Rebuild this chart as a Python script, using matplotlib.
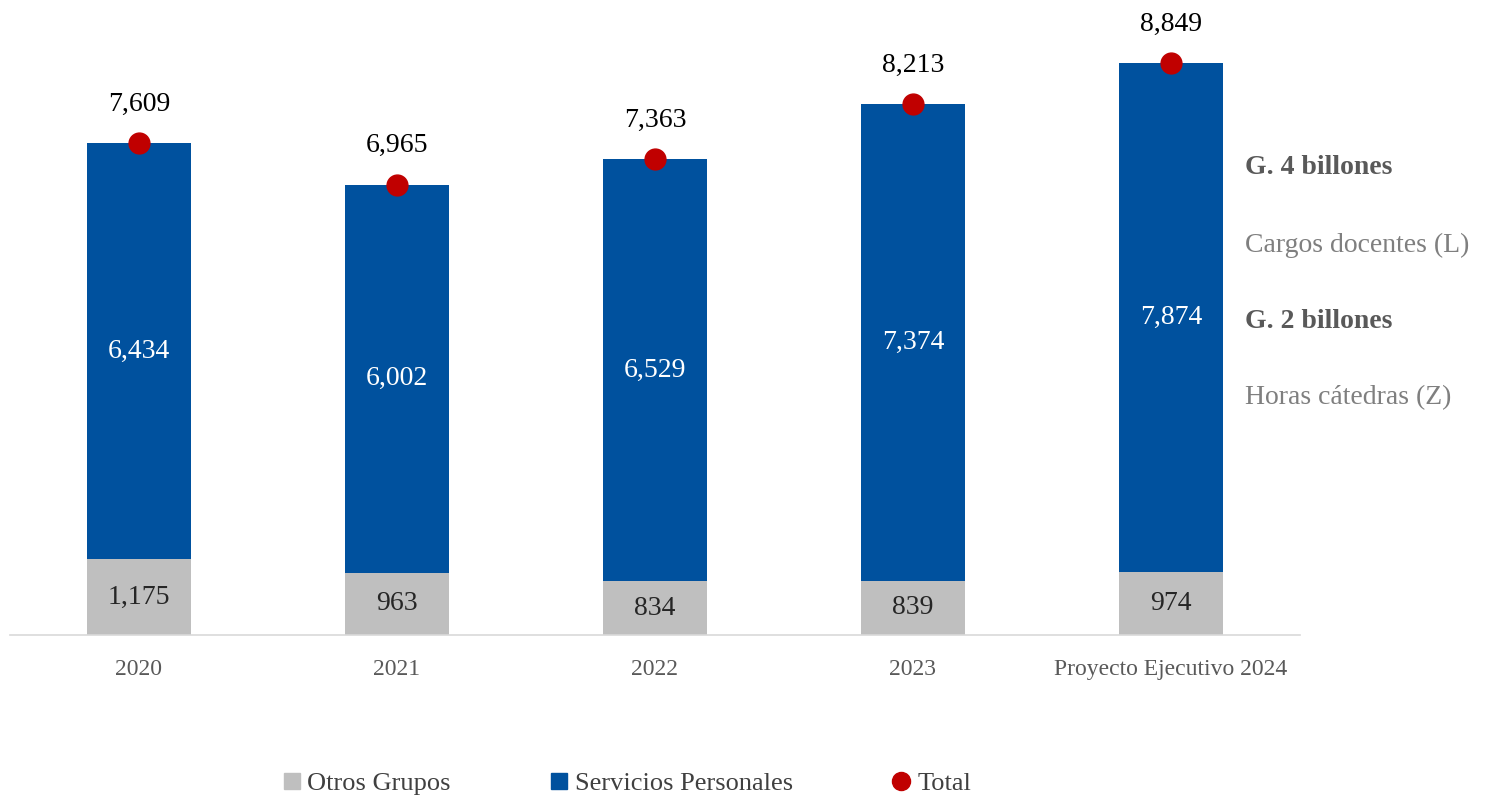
import matplotlib
matplotlib.use("Agg")
import matplotlib.pyplot as plt
from matplotlib.lines import Line2D

categories = ["2020", "2021", "2022", "2023", "Proyecto Ejecutivo 2024"]
otros_grupos = [1175, 963, 834, 839, 974]
servicios_personales = [6434, 6002, 6529, 7374, 7874]
total = [7609, 6965, 7363, 8213, 8849]
side_notes = ["G. 4 billones", "Cargos docentes (L)", "G. 2 billones", "Horas cátedras (Z)"]

BLUE = "#00519E"
GRAY = "#BFBFBF"
RED = "#C00000"
FONT = ["Liberation Serif", "DejaVu Serif"]
plt.rcParams['font.family'] = FONT

W, H = 1486, 799
fig = plt.figure(figsize=(W / 100, H / 100), dpi=100)
ax = fig.add_axes([10 / W, 164 / H, 1290 / W, 615 / H])

x = list(range(len(categories)))
ax.bar(x, otros_grupos, width=0.40, color=GRAY, zorder=2)
ax.bar(x, servicios_personales, width=0.40, bottom=otros_grupos, color=BLUE, zorder=2)
ax.plot(x, total, linestyle="none", marker="o", ms=15, color=RED, zorder=4)

for i in x:
    ax.text(i, otros_grupos[i] / 2, f"{otros_grupos[i]:,}", ha="center", va="center",
            fontsize=20, color="#262626", zorder=5)
    ax.text(i, otros_grupos[i] + servicios_personales[i] / 2, f"{servicios_personales[i]:,}",
            ha="center", va="center", fontsize=20, color="white", zorder=5)
    ax.annotate(f"{total[i]:,}", (i, total[i]), xytext=(0, 28), textcoords="offset points",
                ha="center", va="center", fontsize=20, color="black", zorder=5)

ax.set_xlim(-0.5, 4.5)
ax.set_ylim(0, 9511)
ax.set_xticks(x)
ax.set_xticklabels(categories, fontsize=17, color="#595959")
ax.tick_params(axis="x", length=0, pad=17)
ax.set_yticks([])
for s in ["top", "right", "left"]:
    ax.spines[s].set_visible(False)
ax.spines["bottom"].set_color("#D9D9D9")
ax.spines["bottom"].set_linewidth(1.2)

ys = [168, 245, 322, 398]
for t, y in zip(side_notes, ys):
    bold = t.startswith("G.")
    fig.text(1245 / W, 1 - y / H, t, ha="left", va="center", fontsize=20,
             fontweight="bold" if bold else "normal",
             color="#595959" if bold else "#7F7F7F")

handles = [
    Line2D([], [], linestyle="none", marker="s", ms=12, color=GRAY),
    Line2D([], [], linestyle="none", marker="s", ms=12, color=BLUE),
    Line2D([], [], linestyle="none", marker="o", ms=13, color=RED),
]
fig.legend(handles, ["Otros Grupos", "Servicios Personales", "Total"], loc="center",
           bbox_to_anchor=(626 / W, 1 - 783 / H), ncol=3, frameon=False, fontsize=19,
           handlelength=0.8, handletextpad=0.2, columnspacing=3.7, labelcolor="#404040")

fig.savefig("out.png", dpi=100, facecolor="white")
